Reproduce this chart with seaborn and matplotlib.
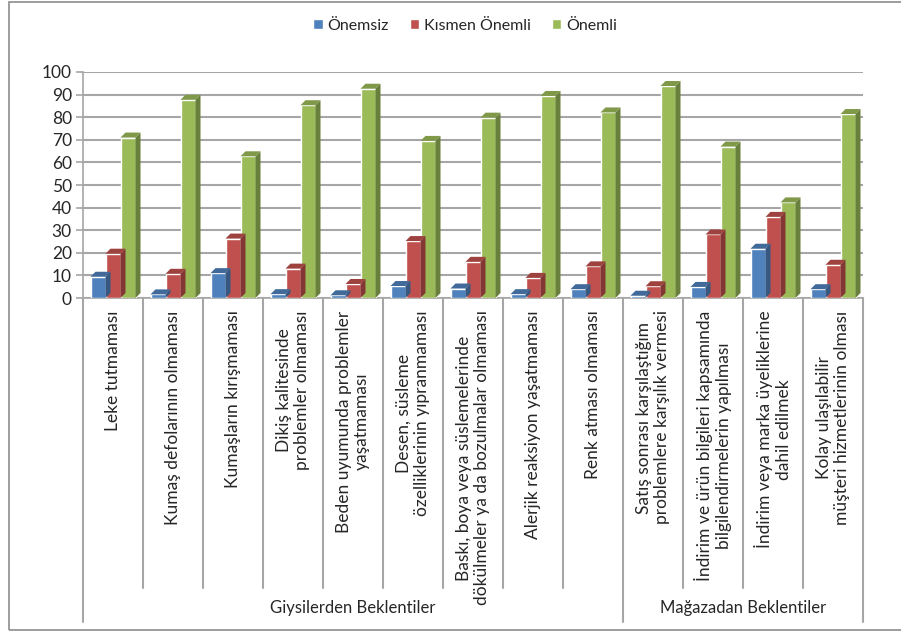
import numpy as np
import pandas as pd
import matplotlib
matplotlib.use('Agg')
import matplotlib.pyplot as plt
import matplotlib.transforms as mtransforms
from matplotlib.patches import Polygon, Rectangle
from matplotlib.colors import to_rgb
import seaborn as sns

# Data (percentages)
categories = [
    'Leke tutmaması',
    'Kumaş defolarının olmaması',
    'Kumaşların kırışmaması',
    'Dikiş kalitesinde\nproblemler olmaması',
    'Beden uyumunda problemler\nyaşatmaması',
    'Desen, süsleme\nözelliklerinin yıpranmaması',
    'Baskı, boya veya süslemelerinde\ndökülmeler ya da bozulmalar olmaması',
    'Alerjik reaksiyon yaşatmaması',
    'Renk atması olmaması',
    'Satış sonrası karşılaştığım\nproblemlere karşılık vermesi',
    'İndirim ve ürün bilgileri kapsamında\nbilgilendirmelerin yapılması',
    'İndirim veya marka üyeliklerine\ndahil edilmek',
    'Kolay ulaşılabilir\nmüşteri hizmetlerinin olması',
]
onemsiz = [9.4, 1.6, 11.0, 1.7, 1.2, 5.3, 4.2, 1.7, 3.9, 1.0, 4.9, 21.8, 3.9]
kismen = [19.6, 10.7, 26.3, 13.0, 6.2, 25.2, 16.0, 8.9, 14.0, 5.2, 28.1, 35.9, 14.7]
onemli = [71.0, 87.7, 62.7, 85.3, 92.6, 69.5, 79.8, 89.4, 82.1, 93.8, 67.0, 42.3, 81.4]
series_names = ['Önemsiz', 'Kısmen Önemli', 'Önemli']
groups = ['Giysilerden Beklentiler', 'Mağazadan Beklentiler']
group_sizes = [9, 4]
colors = ['#4F81BD', '#C0504D', '#9BBB59']

df = pd.DataFrame({
    'Kategori': categories * 3,
    'Seri': [series_names[0]] * 13 + [series_names[1]] * 13 + [series_names[2]] * 13,
    'Değer': onemsiz + kismen + onemli,
})

sns.set_style('white')
plt.rcParams['font.family'] = ['Lato', 'DejaVu Sans']

fig = plt.figure(figsize=(9.01, 6.32), dpi=100)
ax = fig.add_axes([83 / 901, 1 - 298 / 632, 780 / 901, 226 / 632])

sns.barplot(data=df, x='Kategori', y='Değer', hue='Seri', palette=colors,
            width=0.75, saturation=1, ax=ax, legend=True, zorder=3)

gray = '#A6A6A6'
ax.set_ylim(0, 100)
ax.set_xlim(-0.5, len(categories) - 0.5)
ax.set_yticks(np.arange(0, 101, 10))
ax.yaxis.grid(True, color=gray, linewidth=1.5)
ax.set_axisbelow(True)
for s in ['top', 'right']:
    ax.spines[s].set_visible(False)
for s in ['left', 'bottom']:
    ax.spines[s].set_color(gray)
    ax.spines[s].set_linewidth(1.2)
ax.tick_params(axis='y', labelsize=12.5, length=5, color=gray, width=1.2, left=True, pad=3)
ax.tick_params(axis='x', labelsize=12.5, length=0, pad=9, rotation=90)
ax.set_xlabel('')
ax.set_ylabel('')

# pseudo 3D sides/tops for the bars (offsets in pixels)
fig.canvas.draw()
dx, dy = 5, 5
for p in ax.patches:
    x0, y0 = p.get_x(), p.get_y()
    w, h = p.get_width(), p.get_height()
    if h <= 0:
        continue
    (ax0, ay0), (ax1, ay1) = ax.transData.transform([(x0, y0), (x0 + w, y0 + h)])
    c = np.array(to_rgb(p.get_facecolor()))
    side = Polygon([(ax1, ay0), (ax1, ay1), (ax1 + dx, ay1 + dy), (ax1 + dx, ay0 + dy)],
                   closed=True, facecolor=c * 0.68, edgecolor='none',
                   transform=mtransforms.IdentityTransform(), zorder=2.5)
    top = Polygon([(ax0, ay1), (ax1, ay1), (ax1 + dx, ay1 + dy), (ax0 + dx, ay1 + dy)],
                  closed=True, facecolor=c * 0.82, edgecolor='none',
                  transform=mtransforms.IdentityTransform(), zorder=2.5)
    fig.add_artist(side)
    fig.add_artist(top)

# category separators below the axis
trans = mtransforms.blended_transform_factory(ax.transData, fig.transFigure)
bounds = np.arange(len(categories) + 1) - 0.5
group_edges = np.concatenate([[0], np.cumsum(group_sizes)]) - 0.5
for b in bounds:
    y_end = 1 - 622 / 632 if b in group_edges else 1 - 588 / 632
    ax.plot([b, b], [1 - 298 / 632, y_end], color=gray, linewidth=1.5,
            transform=trans, clip_on=False)

# group labels
start = 0
for g, n in zip(groups, group_sizes):
    ax.text(start + (n - 1) / 2, 1 - 608 / 632, g, transform=trans,
            ha='center', va='center', fontsize=12)
    start += n

# legend on top
handles, labels = ax.get_legend_handles_labels()
ax.get_legend().remove()
fig.legend(handles, labels, loc='center', bbox_to_anchor=(465 / 901, 1 - 26 / 632),
           ncol=3, frameon=False, fontsize=11.5, handlelength=0.6, handleheight=0.6,
           handletextpad=0.3, columnspacing=1.3)

# chart area border
fig.patches.append(Rectangle((9 / 901, 1 - 630 / 632), 1.0, 628 / 632,
                             transform=fig.transFigure, fill=False,
                             edgecolor='#8C8C8C', linewidth=1.2))

plt.savefig('out.png', dpi=100)
